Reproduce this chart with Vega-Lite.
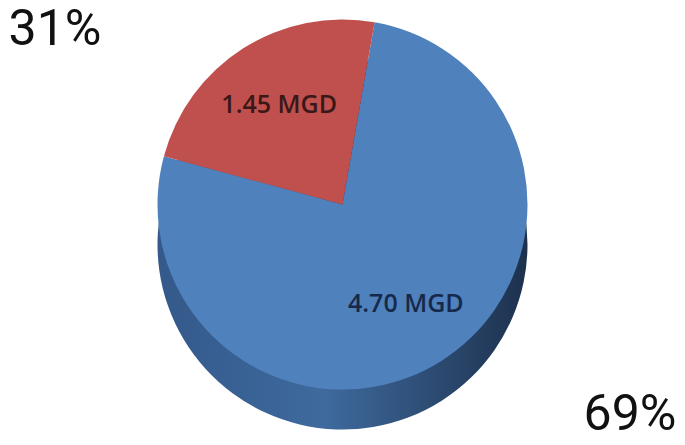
{
  "$schema": "https://vega.github.io/schema/vega-lite/v6.json",
  "width": 685,
  "height": 445,
  "autosize": {"type": "fit", "contains": "padding"},
  "padding": 0,
  "background": "white",
  "config": {"view": {"stroke": null}},
  "data": {
    "values": [
      {"segment": "Main", "mgd": 4.70, "label": "4.70 MGD", "share": "69%"},
      {"segment": "Other", "mgd": 1.45, "label": "1.45 MGD", "share": "31%"}
    ]
  },
  "layer": [
    {
      "description": "Side wall of the pie, drawn as a shaded copy pushed downward",
      "mark": {
        "type": "arc",
        "outerRadius": 185,
        "yOffset": 22,
        "fill": {
          "gradient": "linear",
          "x1": 0, "y1": 0, "x2": 1, "y2": 0,
          "stops": [
            {"offset": 0, "color": "#34598A"},
            {"offset": 0.45, "color": "#3E6A9E"},
            {"offset": 1, "color": "#1D314D"}
          ]
        }
      },
      "encoding": {
        "theta": {"field": "mgd", "type": "quantitative", "stack": true, "scale": {"range": [0.1745, 6.4577]}},
        "order": {"field": "segment", "sort": "ascending"}
      }
    },
    {
      "description": "Top face of the pie",
      "mark": {"type": "arc", "outerRadius": 185, "yOffset": -18},
      "encoding": {
        "theta": {"field": "mgd", "type": "quantitative", "stack": true, "scale": {"range": [0.1745, 6.4577]}},
        "order": {"field": "segment", "sort": "ascending"},
        "color": {
          "field": "segment",
          "type": "nominal",
          "scale": {"domain": ["Main", "Other"], "range": ["#4F81BD", "#C0504D"]},
          "legend": null
        }
      }
    },
    {
      "description": "Flow labels inside each slice",
      "mark": {"type": "text", "radius": 118, "yOffset": -18, "font": "Open Sans", "fontSize": 25, "fontWeight": 600},
      "encoding": {
        "theta": {"field": "mgd", "type": "quantitative", "stack": true, "scale": {"range": [0.1745, 6.4577]}},
        "order": {"field": "segment", "sort": "ascending"},
        "text": {"field": "label"},
        "color": {
          "condition": {"test": "datum.segment === 'Other'", "value": "#3A1818"},
          "value": "#17294A"
        }
      }
    },
    {
      "description": "Percentage callouts in opposite corners",
      "mark": {"type": "text", "font": "Roboto", "fontSize": 50, "color": "#111111"},
      "encoding": {
        "x": {
          "field": "segment",
          "type": "nominal",
          "sort": ["Other", "Main"],
          "scale": {"type": "point", "padding": 0.0957},
          "axis": null
        },
        "y": {
          "field": "segment",
          "type": "nominal",
          "sort": ["Other", "Main"],
          "scale": {"type": "point", "padding": 0.078},
          "axis": null
        },
        "text": {"field": "share"}
      }
    }
  ]
}
